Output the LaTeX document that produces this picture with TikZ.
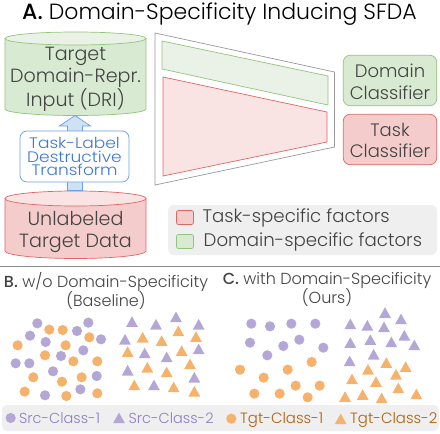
\documentclass[tikz,border=0pt]{standalone}
\usepackage{fontspec}
\setmainfont{Poppins}[UprightFont=* Light,BoldFont=* Medium]
\newfontfamily\stretched{Poppins}[UprightFont=* Light,FakeStretch=1.12]
\usetikzlibrary{positioning}
\definecolor{grn}{HTML}{D9EAD3}\definecolor{grnl}{HTML}{EAF2E7}\definecolor{grnd}{HTML}{93C47D}
\definecolor{rd}{HTML}{F4CCCC}\definecolor{rdl}{HTML}{F9E3E3}\definecolor{rdd}{HTML}{E06666}
\definecolor{blu}{HTML}{CFE2F3}\definecolor{blud}{HTML}{6D9EEB}\definecolor{blut}{HTML}{3C78D8}
\definecolor{txt}{HTML}{434343}\definecolor{leg}{HTML}{EFEFEF}
\definecolor{pur}{HTML}{B4A7D6}\definecolor{purt}{HTML}{8E7CC3}
\definecolor{org}{HTML}{F6B26B}\definecolor{orgt}{HTML}{B45F06}
\tikzset{
 lbl/.style={text=txt,inner sep=0pt,align=center},
 big/.style={lbl,font=\fontsize{19.1}{21.8}\selectfont},
 clf/.style={lbl,font=\fontsize{18}{21.7}\selectfont},
 legt/.style={lbl,anchor=west,font=\fontsize{18.2}{20}\selectfont},
 hdr/.style={lbl,font=\fontsize{16}{19.3}\selectfont},
 capt/.style={inner sep=0pt,anchor=west,font=\fontsize{14.9}{16}\selectfont},
 swatch/.style={rounded corners=2pt,line width=.7pt},
}
\newcommand{\pts}[2]{\foreach \a/\b in {#2} \fill[#1] ({\a/3},{\b/3}) circle (5.1);}
\newcommand{\tris}[2]{\foreach \a/\b in {#2} \fill[#1] ({\a/3-5.9},{\b/3+5.2}) -- ({\a/3+5.9},{\b/3+5.2}) -- ({\a/3},{\b/3-5.4}) -- cycle;}
\newcommand{\cyl}[6]{% fill, light, stroke, top, sideBottom, ry bottom
 \draw[fill=#1,draw=#3,line width=.7pt] (5,#4) -- (5,#5) arc[start angle=180,end angle=0,x radius=70.5,y radius=#6] -- (146,#4) -- cycle;
 \draw[fill=#2,draw=#3,line width=.7pt] (75.5,#4) ellipse[x radius=70.5,y radius=#6];}
\begin{document}
\begin{tikzpicture}[x=1pt,y=-1pt]
\useasboundingbox (0,0) rectangle (440,434);
\node[lbl,text=black,font=\fontsize{22}{24}\selectfont,anchor=base] (title) at (219.5,19.5) {\textbf{A.} Domain-Specificity Inducing SFDA};
% cylinders
\cyl{grn}{grnl}{grnd}{38.5}{109}{6.5}
\node[big] (dri) at (75.5,79.5) {Target\\Domain-Repr.\\Input (DRI)};
\cyl{rd}{rdl}{rdd}{198.5}{251}{7.5}
\node[big] (unl) at (75.5,232) {Unlabeled\\Target Data};
% arrow
\draw[fill=blu,draw=blud,line width=.7pt] (67.5,190.5) -- (67.5,126) -- (59.5,126) -- (75,115.5) -- (90.5,126) -- (82.5,126) -- (82.5,190.5) -- cycle;
\node[rounded corners=7pt,draw=blud,fill=white,line width=.7pt,minimum width=109pt,minimum height=51pt,inner sep=0pt,text=blut,align=center,font=\stretched\fontsize{15.2}{13.9}\selectfont] (tldt) at (74.5,156.5) {Task-Label\\Destructive\\Transform};
% trapezoids
\draw[draw=black!40,line width=.7pt] (155,33) -- (334.5,72) -- (334.5,147) -- (155,185) -- cycle;
\draw[fill=grnl,draw=grnd,line width=.7pt] (162,41) -- (328,76) -- (328,105) -- (162,69) -- cycle;
\draw[fill=rdl,draw=rdd,line width=.7pt] (163,77) -- (327,112) -- (327,142) -- (163,176) -- cycle;
% classifiers
\node[rounded corners=7pt,draw=grnd,fill=grn,line width=.7pt,minimum width=93.5pt,minimum height=50.5pt] (dc) at (390,80.5) {};
\node[clf] (dct) at (390,81.5) {Domain\\Classifier};
\node[rounded corners=7pt,draw=rdd,fill=rd,line width=.7pt,minimum width=93.5pt,minimum height=50.5pt] (tc) at (390,139.5) {};
\node[clf] (tct) at (390,140.5) {Task\\Classifier};
% legend
\fill[leg,rounded corners=6pt] (168,205) rectangle (437,255);
\draw[swatch,fill=rd,draw=rdd] (176.5,210.5) rectangle (193.5,224.5);
\draw[swatch,fill=grn,draw=grnd] (176.5,234.5) rectangle (193.5,248.5);
\node[legt] (lt) at (202.5,218) {Task-specific factors};
\node[legt] (ld) at (203.5,242) {Domain-specific factors};
% rule
\draw[black!45,line width=.8pt] (0,266.5) -- (440,266.5);
\node[hdr,anchor=north] (hb) at (106,272) {\textbf{B.} w/o Domain-Specificity\\(Baseline)};
\node[hdr,anchor=north] (hc) at (327,272) {\textbf{C.} with Domain-Specificity\\(Ours)};
% B points
\begin{scope}[yshift=-265pt]
\pts{pur}{112/175,265/173,231/198,90/212,137/231,303/223,250/256,183/273,47/295,88/295,159/319,290/333,241/373,135/391}
\pts{org}{148/194,188/195,268/217,53/241,197/241,135/271,220/289,292/289,100/337,245/337,186/350,74/380,199/393,292/385}
\tris{pur}{396/170,468/178,528/156,596/178,375/223,434/264,500/276,596/252,383/316,583/337,462/360}
\tris{org}{535/198,588/215,428/217,485/227,383/260,545/257,570/297,442/307,500/321,403/360,521/366,583/379}
\end{scope}
% C points
\begin{scope}[xshift=220pt,yshift=-265pt]
\pts{pur}{94/176,150/184,214/176,286/176,90/233,190/243,238/224,310/248,142/271}
\pts{org}{275/291,60/314,203/314,131/338,227/362,299/362,103/386,179/386,263/397}
\tris{pur}{495/143,543/162,391/177,442/181,492/186,451/224,553/211,514/231,391/233,583/240,461/268,389/288}
\tris{org}{499/293,557/305,444/313,528/328,396/342,468/350,535/369,428/389,375/395,485/399,589/387}
\end{scope}
% bottom legend
\fill[leg,rounded corners=5pt] (2,405) rectangle (439,431);
\begin{scope}[yshift=-265pt]
\pts{pur}{32/459}
\tris{pur}{357/459}
\end{scope}
\begin{scope}[xshift=220pt,yshift=-265pt]
\pts{org}{34/461}
\tris{org}{362/462}
\end{scope}
\node[capt,text=purt,font=\fontsize{14.5}{16}\selectfont] (s1) at (19,418.5) {Src-Class-1};
\node[capt,text=purt,font=\fontsize{14.5}{16}\selectfont] (s2) at (128.5,418.5) {Src-Class-2};
\node[capt,text=orgt] (t1) at (240,419.5) {Tgt-Class-1};
\node[capt,text=orgt] (t2) at (350,419.5) {Tgt-Class-2};
\end{tikzpicture}
\end{document}
